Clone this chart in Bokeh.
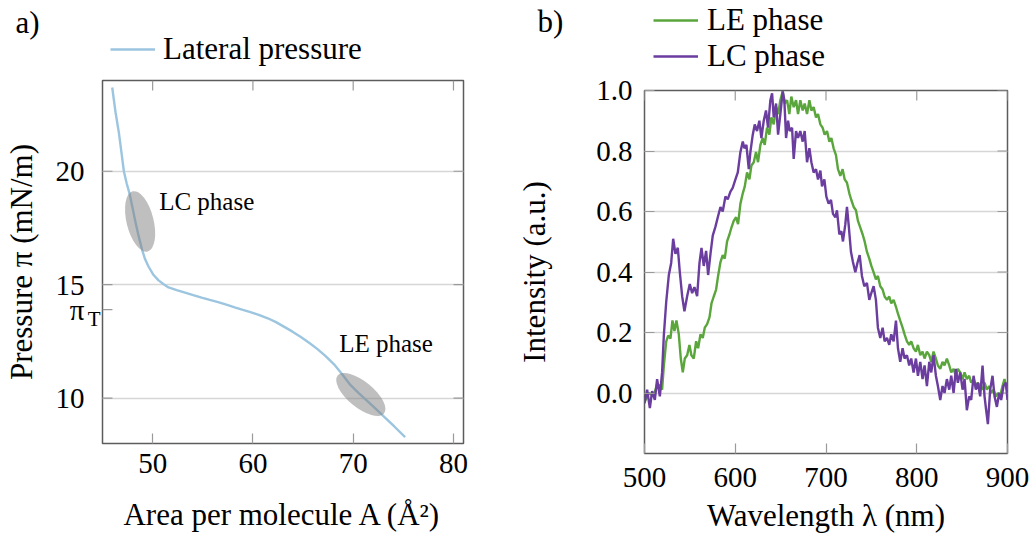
from bokeh.plotting import figure
from bokeh.models import (Range1d, FixedTicker, Legend, LegendItem, LinearAxis,
                          Label, NumeralTickFormatter)
from bokeh.layouts import row, column
from bokeh.embed import file_html
from bokeh.resources import INLINE

FONT = "Liberation Serif"
NAN = float("nan")

# ---------------- panel a) data ----------------
area = [45.97, 46.30, 46.63, 46.90, 47.13, 47.42, 47.72, 48.00, 48.28, 48.60,
        48.94, 49.25, 49.60, 50.05, 50.59, 51.10, 51.58, 52.40, 53.23, 54.05,
        54.88, 55.70, 56.53, 57.35, 58.18, 59.00, 59.83, 60.65, 61.48, 62.30,
        63.13, 63.95, 64.78, 65.60, 66.44, 67.25, 68.09, 68.90, 69.74, 70.55,
        71.39, 72.20, 73.04, 74.10, 75.18]
pressure = [23.69, 22.60, 21.71, 20.80, 20.00, 19.45, 18.98, 18.38, 17.77, 17.15,
            16.55, 16.12, 15.79, 15.45, 15.19, 15.02, 14.88, 14.76, 14.65, 14.54,
            14.43, 14.33, 14.23, 14.12, 14.00, 13.89, 13.78, 13.66, 13.52, 13.35,
            13.14, 12.93, 12.69, 12.44, 12.16, 11.85, 11.49, 11.05, 10.57, 10.22,
            9.88, 9.55, 9.20, 8.75, 8.28]
pi_T = 13.9          # transition pressure tick
pi_T_sub = 13.49     # where its subscript "T" sits
a_xticks = [50, 60, 70, 80]
a_yticks = [10, 15, 20]

# ---------------- panel b) data ----------------
wl_lc = [500.0, 502.9, 505.9, 508.4, 511.4, 513.9, 516.9, 519.4, 521.3, 523.9,
         526.8, 529.4, 531.6, 534.1, 536.7, 538.9, 541.5, 544.0, 547.0, 549.9,
         552.5, 555.0, 558.0, 560.6, 562.8, 565.3, 567.9, 570.1, 572.7, 575.2,
         578.2, 580.7, 583.7, 586.2, 589.2, 591.7, 594.7, 597.2, 600.2, 602.8,
         605.7, 608.3, 610.1, 612.3, 614.9, 616.7, 619.3, 621.5, 624.0, 626.6,
         628.8, 631.4, 633.9, 636.1, 638.7, 640.6, 642.4, 645.0, 647.2, 649.7,
         652.3, 654.1, 656.0, 658.2, 660.0, 662.6, 664.4, 667.0, 669.2, 671.7,
         674.3, 676.5, 679.1, 681.7, 683.9, 686.4, 689.0, 691.2, 693.8, 695.6,
         698.2, 700.4, 702.9, 705.5, 707.7, 710.3, 712.1, 714.7, 716.9, 718.7,
         721.3, 723.1, 724.9, 727.5, 729.7, 732.3, 734.9, 737.1, 739.6, 742.2,
         745.1, 747.7, 749.9, 752.5, 755.0, 757.2, 759.8, 762.4, 764.6, 767.2,
         769.7, 771.9, 774.5, 777.1, 779.3, 781.8, 784.4, 786.6, 789.2, 791.7,
         793.9, 796.5, 799.1, 801.3, 803.9, 806.4, 808.6, 811.2, 813.8, 816.0,
         818.5, 821.1, 823.3, 825.9, 828.4, 830.6, 833.2, 835.8, 838.0, 840.6,
         843.1, 845.3, 847.9, 850.5, 852.7, 855.2, 857.8, 860.0, 862.6, 865.1,
         867.3, 869.9, 872.5, 874.7, 876.5, 878.4, 880.9, 883.5, 885.7, 888.3,
         890.8, 893.0, 895.6, 898.2, 900.0]
int_lc = [-0.034, 0.011, -0.050, 0.006, -0.023, 0.046, -0.011, 0.068, 0.190, 0.300,
          0.390, 0.430, 0.510, 0.460, 0.480, 0.400, 0.320, 0.270, 0.320, 0.360,
          0.330, 0.350, 0.320, 0.430, 0.480, 0.420, 0.470, 0.390, 0.460, 0.520,
          0.550, 0.580, 0.615, 0.600, 0.650, 0.640, 0.666, 0.678, 0.706, 0.729,
          0.797, 0.831, 0.809, 0.820, 0.740, 0.797, 0.854, 0.888, 0.866, 0.900,
          0.843, 0.900, 0.934, 0.877, 0.968, 0.991, 0.911, 0.957, 0.854, 0.922,
          0.997, 0.968, 0.843, 0.900, 0.866, 0.877, 0.774, 0.866, 0.843, 0.866,
          0.831, 0.866, 0.763, 0.809, 0.763, 0.729, 0.740, 0.706, 0.735, 0.683,
          0.706, 0.649, 0.626, 0.638, 0.592, 0.581, 0.604, 0.524, 0.535, 0.501,
          0.558, 0.615, 0.558, 0.467, 0.433, 0.399, 0.433, 0.456, 0.387, 0.353,
          0.364, 0.308, 0.330, 0.353, 0.308, 0.216, 0.182, 0.216, 0.171, 0.182,
          0.159, 0.194, 0.171, 0.239, 0.148, 0.103, 0.148, 0.114, 0.125, 0.091,
          0.114, 0.068, 0.114, 0.057, 0.103, 0.046, 0.091, 0.023, 0.103, 0.068,
          0.125, 0.057, 0.023, -0.023, 0.023, 0.000, 0.046, 0.011, 0.057, 0.000,
          0.080, 0.034, 0.068, 0.011, 0.046, -0.057, -0.011, -0.023, 0.057, 0.011,
          0.034, -0.011, 0.091, -0.011, -0.057, -0.103, 0.011, 0.057, -0.011, -0.046,
          0.000, -0.023, 0.023, 0.034, -0.023]

wl_le = [500.0, 505.0, 510.0, 514.0, 517.6, 519.4, 521.3, 523.9, 526.1, 528.6,
         530.8, 533.0, 535.2, 537.8, 540.0, 542.2, 544.4, 547.0, 549.5, 551.7,
         554.3, 556.9, 559.1, 561.7, 564.2, 566.4, 569.0, 571.6, 573.8, 576.3,
         578.9, 581.1, 583.7, 586.2, 588.4, 591.0, 593.6, 595.8, 598.3, 600.9,
         603.1, 605.7, 608.3, 610.5, 613.0, 615.6, 617.8, 620.4, 622.9, 625.1,
         627.7, 630.3, 632.5, 635.0, 637.6, 639.8, 642.4, 645.0, 647.2, 649.7,
         652.3, 654.5, 657.1, 659.6, 661.8, 664.4, 667.0, 669.2, 671.7, 674.3,
         676.5, 679.1, 681.7, 683.9, 686.4, 689.0, 691.2, 693.8, 696.3, 698.5,
         701.1, 703.7, 705.9, 708.4, 711.0, 713.2, 715.8, 718.3, 720.6, 723.1,
         725.7, 727.9, 730.5, 733.0, 735.2, 737.8, 740.4, 742.6, 745.1, 747.7,
         749.9, 752.5, 755.0, 757.2, 759.8, 762.4, 764.6, 767.2, 769.7, 771.9,
         774.5, 777.1, 779.3, 781.8, 784.4, 786.6, 789.2, 791.7, 793.9, 796.5,
         799.1, 801.3, 803.9, 806.4, 808.6, 811.2, 813.8, 816.0, 818.5, 821.1,
         823.3, 825.9, 828.4, 830.6, 833.2, 835.8, 838.0, 840.6, 843.1, 845.3,
         847.9, 850.5, 852.7, 855.2, 857.8, 860.0, 862.6, 865.1, 867.3, 869.9,
         872.5, 874.7, 877.2, 879.8, 882.0, 884.6, 887.2, 889.4, 891.9, 894.5,
         896.7, 899.3]
int_le = [-0.030, 0.000, -0.010, 0.030, 0.023, 0.011, 0.090, 0.170, 0.190, 0.180,
          0.240, 0.205, 0.240, 0.194, 0.114, 0.068, 0.114, 0.125, 0.159, 0.125,
          0.114, 0.171, 0.148, 0.194, 0.182, 0.216, 0.228, 0.250, 0.296, 0.319,
          0.342, 0.387, 0.433, 0.456, 0.444, 0.501, 0.524, 0.547, 0.569, 0.581,
          0.558, 0.626, 0.660, 0.683, 0.729, 0.706, 0.752, 0.763, 0.797, 0.763,
          0.820, 0.843, 0.820, 0.877, 0.854, 0.911, 0.888, 0.945, 0.922, 0.968,
          0.997, 0.957, 0.968, 0.922, 0.980, 0.945, 0.968, 0.922, 0.968, 0.934,
          0.957, 0.922, 0.968, 0.934, 0.945, 0.911, 0.922, 0.888, 0.877, 0.854,
          0.866, 0.831, 0.843, 0.809, 0.786, 0.740, 0.718, 0.740, 0.706, 0.695,
          0.660, 0.638, 0.615, 0.604, 0.569, 0.547, 0.524, 0.501, 0.467, 0.444,
          0.421, 0.399, 0.376, 0.387, 0.353, 0.342, 0.319, 0.308, 0.319, 0.296,
          0.308, 0.285, 0.262, 0.239, 0.216, 0.194, 0.171, 0.159, 0.171, 0.148,
          0.137, 0.159, 0.125, 0.137, 0.114, 0.137, 0.125, 0.103, 0.137, 0.114,
          0.091, 0.080, 0.103, 0.091, 0.114, 0.091, 0.068, 0.080, 0.057, 0.080,
          0.068, 0.046, 0.068, 0.046, 0.057, 0.034, 0.046, 0.023, 0.034, 0.023,
          0.011, 0.034, 0.011, 0.023, 0.000, 0.011, -0.011, 0.000, -0.011, 0.023,
          0.046, 0.011]
b_xticks = [500, 600, 700, 800, 900]
b_yticks = [0.0, 0.2, 0.4, 0.6, 0.8, 1.0]

# annotation ellipses (centre x, centre y) for panel a)
lc_centre = (48.75, 17.79)
le_centre = (70.76, 10.16)

BLUE, GREEN, PURPLE = "#9cc5e0", "#5aa63c", "#6a3d9e"
TICK_COLOR = "#9a9a9a"
GRID_COLOR = "#d6d6d6"
FRAME_COLOR = "#5c5c5c"
TICK_LEN = 10   # px
FRAME_PX = 363  # frame size in px (both panels)
HEAD_A = 78     # header strip heights (panel letter + legend)
HEAD_B = 74
W_A, W_B = 510, 525


def style_axis(ax, ticks, standoff, label_standoff, tick_in=TICK_LEN):
    ax.ticker = FixedTicker(ticks=ticks)
    ax.axis_line_color = None
    ax.major_tick_in = tick_in
    ax.major_tick_out = 0
    ax.major_tick_line_color = TICK_COLOR
    ax.major_tick_line_width = 1.2
    ax.minor_tick_line_color = None
    ax.major_label_text_font = FONT
    ax.major_label_text_color = "black"
    ax.major_label_text_font_size = "29px"
    ax.major_label_standoff = standoff
    ax.axis_label_text_font = FONT
    ax.axis_label_text_font_size = "31px"
    ax.axis_label_text_font_style = "normal"
    ax.axis_label_text_color = "black"
    ax.axis_label_standoff = label_standoff


def base_style(p):
    p.frame_align = False
    p.outline_line_color = FRAME_COLOR
    p.outline_line_width = 1.5
    p.background_fill_color = "white"
    p.border_fill_color = "white"
    p.xgrid.visible = False
    p.title.visible = False


def edge_ticks(p, xticks, yticks, xr, yr, left_ticks=None):
    # inward tick marks on the top and right (and optionally left) frame edges
    px_x = (xr[1] - xr[0]) / FRAME_PX
    px_y = (yr[1] - yr[0]) / FRAME_PX
    p.segment(x0=xticks, y0=[yr[1]] * len(xticks), x1=xticks,
              y1=[yr[1] - TICK_LEN * px_y] * len(xticks),
              line_color=TICK_COLOR, line_width=1.2)
    p.segment(x0=[xr[1]] * len(yticks), y0=yticks,
              x1=[xr[1] - TICK_LEN * px_x] * len(yticks), y1=yticks,
              line_color=TICK_COLOR, line_width=1.2)
    if left_ticks:
        p.segment(x0=[xr[0]] * len(left_ticks), y0=left_ticks,
                  x1=[xr[0] + TICK_LEN * px_x] * len(left_ticks), y1=left_ticks,
                  line_color=TICK_COLOR, line_width=1.2)


def text_label(x, y, text, size, baseline="alphabetic"):
    return Label(x=x, y=y, text=text, text_font=FONT, text_font_size=size,
                 text_color="black", text_baseline=baseline, text_align="left")


def legend_box(items, loc, standoff):
    return Legend(items=items, location=loc, orientation="vertical",
                  border_line_color=None, background_fill_alpha=0,
                  padding=0, margin=0, spacing=0, glyph_width=45, glyph_height=20,
                  label_standoff=standoff, label_text_font=FONT,
                  label_text_font_size="31px", label_text_color="black")


def header(width, height):
    h = figure(width=width, height=height, x_range=Range1d(0, width),
               y_range=Range1d(0, height), output_backend="svg", toolbar_location=None,
               x_axis_location=None, y_axis_location=None,
               min_border_left=0, min_border_right=0, min_border_top=0, min_border_bottom=0)
    h.frame_align = False
    h.outline_line_color = None
    h.grid.visible = False
    h.title.visible = False
    h.background_fill_color = "white"
    h.border_fill_color = "white"
    return h


# ======================= panel a) =======================
A_XR, A_YR = (45, 81), (8, 24)
pa = figure(width=W_A, height=541 - HEAD_A, x_range=Range1d(*A_XR), y_range=Range1d(*A_YR),
            output_backend="svg", toolbar_location=None,
            min_border_left=100, min_border_right=W_A - 463, min_border_top=80 - HEAD_A,
            min_border_bottom=98)
base_style(pa)
pa.ygrid.ticker = FixedTicker(ticks=a_yticks)
pa.ygrid.grid_line_color = GRID_COLOR
pa.ygrid.grid_line_width = 1.3

style_axis(pa.xaxis[0], a_xticks, standoff=10, label_standoff=21)
pa.xaxis[0].axis_label = "Area per molecule A (Å²)"
style_axis(pa.yaxis[0], a_yticks + [pi_T], standoff=0, label_standoff=14, tick_in=0)
pa.yaxis[0].major_label_overrides = {pi_T: "π"}
pa.yaxis[0].axis_label = "Pressure π (mN/m)"
# inner axis carrying the subscript of pi_T
sub_axis = LinearAxis()
style_axis(sub_axis, [pi_T_sub], standoff=2, label_standoff=0, tick_in=0)
sub_axis.major_label_text_font_size = "21px"
sub_axis.major_label_overrides = {pi_T_sub: "T"}
pa.left = [sub_axis] + list(pa.left)
edge_ticks(pa, a_xticks, a_yticks, A_XR, A_YR, left_ticks=a_yticks + [pi_T])

pa.line(area, pressure, line_color=BLUE, line_width=2.4)

pa.ellipse(x=[lc_centre[0]], y=[lc_centre[1]], width=[62], height=[27], angle=[1.815],
           width_units="screen", height_units="screen",
           fill_color="gray", fill_alpha=0.5, line_color=None)
pa.ellipse(x=[le_centre[0]], y=[le_centre[1]], width=[60], height=[26], angle=[-0.688],
           width_units="screen", height_units="screen",
           fill_color="gray", fill_alpha=0.5, line_color=None)

pa.add_layout(text_label(50.65, 18.67, "LC phase", "25px"))
pa.add_layout(text_label(68.6, 12.41, "LE phase", "25px"))

# ======================= panel b) =======================
B_XR, B_YR = (500, 900), (-0.2, 1.0)
pb = figure(width=W_B, height=541 - HEAD_B, x_range=Range1d(*B_XR), y_range=Range1d(*B_YR),
            output_backend="svg", toolbar_location=None,
            min_border_left=644 - W_A, min_border_right=28, min_border_top=90 - HEAD_B,
            min_border_bottom=88)
base_style(pb)
pb.ygrid.ticker = FixedTicker(ticks=b_yticks)
pb.ygrid.grid_line_color = GRID_COLOR
pb.ygrid.grid_line_width = 1.3

style_axis(pb.xaxis[0], b_xticks, standoff=14, label_standoff=8)
pb.xaxis[0].axis_label = "Wavelength λ (nm)"
style_axis(pb.yaxis[0], b_yticks, standoff=12, label_standoff=41)
pb.yaxis[0].formatter = NumeralTickFormatter(format="0.0")
pb.yaxis[0].axis_label = "Intensity (a.u.)"
edge_ticks(pb, b_xticks, b_yticks, B_XR, B_YR)

pb.line(wl_le, int_le, line_color=GREEN, line_width=2.4)
pb.line(wl_lc, int_lc, line_color=PURPLE, line_width=2.4)

# ============ header strips: panel letters and legends ============
ha = header(W_A, HEAD_A)
k_blue = ha.line(x=[NAN], y=[NAN], line_color=BLUE, line_width=2.4)
ha.add_layout(legend_box([LegendItem(label="Lateral pressure", renderers=[k_blue])],
                         (110, HEAD_A - 67), 8))
ha.add_layout(text_label(15, HEAD_A - 22, "a)", "31px", "middle"))

hb = header(W_B, HEAD_B)
k_green = hb.line(x=[NAN], y=[NAN], line_color=GREEN, line_width=2.4)
k_purple = hb.line(x=[NAN], y=[NAN], line_color=PURPLE, line_width=2.4)
hb.add_layout(legend_box([LegendItem(label="LE phase", renderers=[k_green]),
                          LegendItem(label="LC phase", renderers=[k_purple])],
                         (653 - W_A, 0), 9))
hb.add_layout(text_label(537 - W_A, HEAD_B - 20.5, "b)", "31px", "middle"))

layout = row(column(ha, pa, spacing=0), column(hb, pb, spacing=0), spacing=0)
open("out.html", "w").write(file_html(layout, INLINE))
